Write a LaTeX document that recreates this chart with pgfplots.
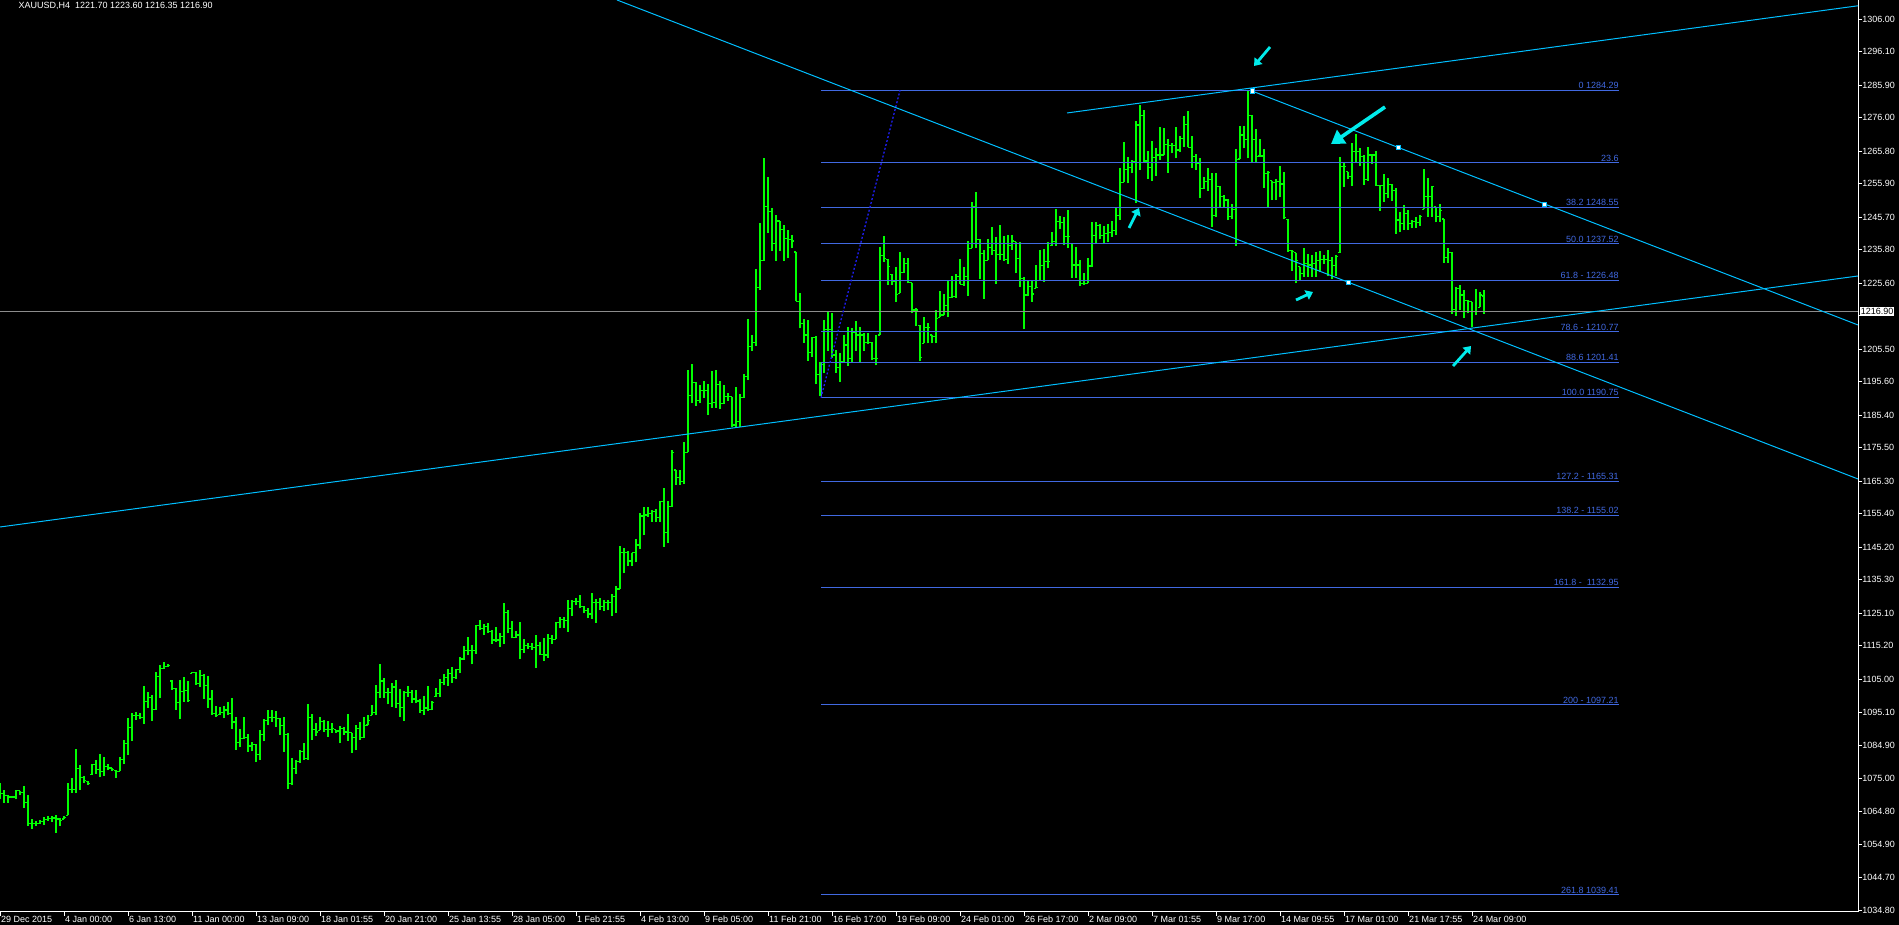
\documentclass[border=0pt]{standalone}
\usepackage{pgfplots}
\pgfplotsset{compat=1.18}
\usepackage{pgfplotstable}
\usepackage{fontspec}
\setmainfont{Liberation Sans}
\usetikzlibrary{arrows.meta}
\definecolor{barcol}{RGB}{0,255,0}
\definecolor{fibcol}{RGB}{65,105,225}
\definecolor{trendcol}{RGB}{0,191,255}
\definecolor{dotcol}{RGB}{30,30,240}
\definecolor{arrcol}{RGB}{0,235,235}
\definecolor{pricecol}{RGB}{140,140,140}
\pgfplotstableread{
i h l o c
0 1073.5 1068.5 1071.0 1070.2
1 1071.3 1067.4 1070.2 1069.7
2 1069.9 1067.4 1069.7 1069.2
3 1069.6 1068.8 1069.2 1069.2
4 1071.3 1068.5 1069.2 1071.1
5 1071.1 1069.8 1071.1 1070.5
6 1072.5 1065.9 1070.5 1067.5
7 1069.7 1060.4 1067.5 1061.1
8 1062.4 1059.5 1061.1 1061.1
9 1061.9 1060.4 1061.1 1061.2
10 1062.3 1061.0 1061.2 1061.8
11 1063.0 1060.8 1061.8 1062.4
12 1063.3 1061.9 1062.4 1062.6
13 1063.5 1061.6 1062.6 1062.8
14 1063.6 1058.3 1062.8 1062.5
15 1062.9 1060.4 1062.5 1062.0
16 1063.3 1062.5 1062.5 1062.9
17 1073.5 1063.6 1063.6 1071.5
18 1074.9 1070.4 1071.5 1071.4
19 1083.7 1070.4 1071.4 1077.8
20 1078.9 1071.4 1077.8 1075.1
21 1075.5 1073.5 1075.1 1074.2
22 1074.0 1073.0 1074.0 1073.2
23 1079.2 1076.0 1076.0 1079.0
24 1080.4 1076.3 1079.0 1077.5
25 1082.2 1075.2 1077.5 1076.9
26 1081.3 1075.6 1076.9 1078.6
27 1079.2 1077.3 1078.6 1078.0
28 1078.1 1077.1 1078.0 1077.5
29 1077.3 1075.0 1077.3 1077.0
30 1081.3 1077.0 1077.0 1080.6
31 1086.5 1079.2 1080.6 1085.5
32 1093.3 1082.1 1085.5 1090.3
33 1094.8 1086.3 1090.3 1094.1
34 1095.1 1092.6 1094.1 1093.9
35 1094.9 1092.8 1093.9 1093.5
36 1102.9 1091.4 1093.5 1098.3
37 1101.1 1096.4 1098.3 1099.6
38 1100.2 1092.4 1099.6 1095.9
39 1107.2 1095.8 1095.9 1105.9
40 1109.3 1099.4 1105.9 1108.2
41 1110.2 1108.1 1108.2 1109.0
42 1109.6 1108.7 1109.0 1109.3
43 1104.7 1101.9 1104.5 1102.2
44 1102.3 1095.7 1102.2 1097.9
45 1104.7 1092.8 1097.9 1101.3
46 1105.7 1098.2 1101.3 1101.5
47 1104.4 1098.2 1101.5 1098.5
48 1107.3 1106.8 1106.8 1107.0
49 1107.2 1103.4 1107.0 1103.8
50 1107.8 1102.7 1103.8 1106.2
51 1106.5 1099.1 1106.2 1103.1
52 1106.0 1096.3 1103.1 1099.0
53 1101.7 1094.2 1099.0 1094.6
54 1097.0 1093.6 1094.6 1094.1
55 1096.5 1094.2 1094.2 1095.0
56 1096.8 1093.1 1095.0 1095.7
57 1098.2 1094.2 1095.7 1094.6
58 1099.3 1089.9 1094.6 1092.0
59 1093.5 1083.6 1092.0 1085.7
60 1089.8 1084.4 1085.7 1087.0
61 1093.5 1087.0 1087.0 1087.2
62 1088.3 1082.9 1087.2 1084.7
63 1086.0 1083.1 1084.7 1085.3
64 1085.3 1079.9 1085.3 1082.1
65 1089.5 1080.6 1082.1 1088.2
66 1092.9 1086.1 1088.2 1092.6
67 1095.6 1091.2 1092.6 1093.4
68 1095.6 1092.1 1093.4 1093.4
69 1095.3 1090.6 1093.4 1093.0
70 1093.3 1088.1 1093.0 1091.0
71 1093.6 1082.9 1091.0 1088.3
72 1088.8 1071.5 1088.3 1073.3
73 1081.0 1072.8 1073.3 1077.8
74 1080.4 1076.3 1077.8 1080.0
75 1083.6 1079.5 1080.0 1083.1
76 1085.5 1080.6 1083.1 1080.8
77 1097.6 1080.6 1080.8 1093.4
78 1094.4 1086.6 1093.4 1089.8
79 1091.6 1087.9 1089.8 1089.0
80 1093.4 1089.5 1089.5 1092.3
81 1092.6 1089.0 1092.3 1089.7
82 1092.3 1087.5 1089.7 1089.7
83 1091.6 1088.8 1089.7 1090.0
84 1089.7 1088.8 1089.7 1089.3
85 1090.8 1085.5 1089.3 1090.0
86 1090.6 1088.0 1090.0 1089.0
87 1094.6 1086.3 1089.0 1088.8
88 1088.8 1082.6 1088.8 1087.2
89 1091.1 1083.5 1087.2 1090.0
90 1092.1 1086.7 1090.0 1087.3
91 1093.6 1087.2 1087.3 1091.0
92 1094.1 1091.1 1091.1 1092.6
93 1097.2 1094.1 1094.1 1095.0
94 1103.2 1094.1 1095.0 1101.0
95 1109.8 1099.4 1101.0 1104.5
96 1105.3 1099.4 1104.5 1101.0
97 1102.4 1097.4 1101.0 1101.0
98 1103.8 1096.7 1101.0 1102.7
99 1104.8 1096.4 1102.7 1097.7
100 1102.2 1093.6 1097.7 1096.5
101 1101.5 1092.4 1096.5 1101.0
102 1102.9 1099.7 1101.0 1101.0
103 1101.9 1097.9 1101.0 1099.0
104 1101.7 1097.7 1099.0 1098.4
105 1098.9 1094.9 1098.4 1095.6
106 1099.9 1094.3 1095.6 1096.3
107 1102.9 1095.4 1096.3 1095.9
108 1098.4 1095.6 1095.9 1097.9
109 1102.4 1099.7 1099.7 1100.7
110 1105.1 1099.7 1100.7 1104.1
111 1106.6 1103.2 1104.1 1105.5
112 1108.1 1103.0 1105.5 1106.8
113 1108.8 1104.0 1106.8 1105.5
114 1108.3 1105.1 1105.5 1108.1
115 1111.7 1106.8 1108.1 1111.2
116 1115.2 1110.9 1111.2 1113.9
117 1118.0 1112.4 1113.9 1113.9
118 1115.4 1109.6 1113.9 1113.9
119 1121.5 1112.7 1113.9 1121.3
120 1123.0 1120.0 1121.3 1120.5
121 1121.8 1118.5 1120.5 1121.0
122 1122.2 1119.2 1121.0 1119.5
123 1120.0 1115.9 1119.5 1117.0
124 1121.0 1116.4 1117.0 1117.0
125 1119.0 1114.9 1117.0 1118.0
126 1128.1 1115.7 1118.0 1125.3
127 1126.1 1119.0 1125.3 1120.5
128 1122.8 1117.5 1120.5 1117.7
129 1119.7 1117.5 1117.7 1118.5
130 1122.4 1111.1 1118.5 1114.1
131 1117.2 1113.1 1114.1 1115.4
132 1116.0 1114.1 1115.4 1114.9
133 1116.0 1113.9 1114.9 1114.7
134 1118.5 1108.5 1114.7 1115.4
135 1116.4 1112.4 1115.4 1112.6
136 1117.5 1110.6 1112.6 1112.4
137 1118.8 1111.6 1112.4 1117.5
138 1118.5 1115.9 1117.5 1117.2
139 1122.5 1117.2 1117.2 1122.3
140 1124.1 1120.5 1122.3 1123.3
141 1124.1 1120.7 1123.3 1122.8
142 1129.1 1119.5 1122.8 1126.6
143 1129.3 1124.3 1126.6 1128.8
144 1129.9 1127.6 1128.8 1128.6
145 1130.6 1126.6 1128.6 1127.1
146 1127.3 1125.1 1127.1 1125.9
147 1126.6 1123.6 1125.9 1124.9
148 1131.2 1123.4 1124.9 1128.4
149 1129.6 1122.2 1128.4 1128.4
150 1129.9 1126.1 1128.4 1127.3
151 1129.3 1125.9 1127.3 1128.4
152 1129.1 1126.1 1128.4 1128.3
153 1130.9 1124.4 1128.3 1130.2
154 1133.4 1125.3 1130.2 1132.5
155 1145.6 1132.4 1132.5 1143.6
156 1144.9 1137.3 1143.6 1143.6
157 1144.1 1139.6 1143.6 1141.0
158 1143.6 1139.6 1141.0 1143.5
159 1147.7 1140.6 1143.5 1145.9
160 1155.5 1144.6 1145.9 1154.7
161 1157.5 1148.9 1154.7 1155.0
162 1157.5 1154.5 1155.0 1155.5
163 1156.5 1153.0 1155.5 1156.2
164 1157.0 1153.0 1156.2 1154.3
165 1159.3 1153.0 1154.3 1159.1
166 1163.1 1145.3 1159.1 1149.7
167 1159.3 1146.6 1149.7 1157.7
168 1174.8 1157.5 1157.7 1174.1
169 1168.7 1164.3 1168.7 1166.5
170 1168.7 1164.3 1166.5 1165.3
171 1177.3 1164.6 1165.3 1174.1
172 1199.1 1174.1 1174.1 1191.5
173 1200.9 1189.0 1191.5 1195.4
174 1195.4 1188.3 1195.4 1190.0
175 1194.6 1189.0 1190.0 1193.0
176 1195.8 1190.7 1193.0 1193.0
177 1194.8 1185.4 1193.0 1189.0
178 1198.8 1187.5 1189.0 1189.2
179 1199.1 1187.7 1189.2 1194.8
180 1195.8 1187.2 1194.8 1189.0
181 1194.6 1188.7 1189.0 1191.2
182 1192.3 1189.7 1191.2 1191.0
183 1191.0 1181.7 1191.0 1182.4
184 1193.9 1181.7 1182.4 1183.4
185 1192.0 1181.7 1183.4 1190.7
186 1197.8 1190.5 1190.7 1197.1
187 1214.7 1196.1 1197.1 1206.2
188 1209.8 1205.0 1206.2 1207.6
189 1229.9 1206.5 1207.6 1224.3
190 1243.8 1223.5 1224.3 1232.4
191 1263.6 1232.4 1232.4 1248.9
192 1257.8 1241.0 1248.9 1247.3
193 1248.4 1235.5 1247.3 1237.7
194 1246.3 1232.4 1237.7 1244.5
195 1244.5 1235.5 1244.5 1242.0
196 1243.3 1232.4 1242.0 1239.2
197 1241.8 1233.1 1239.2 1239.0
198 1240.2 1236.2 1239.0 1238.4
199 1235.1 1220.1 1235.1 1220.1
200 1222.5 1211.8 1220.1 1213.3
201 1214.7 1207.5 1213.3 1209.8
202 1214.3 1202.0 1209.8 1204.5
203 1209.3 1203.2 1204.5 1209.1
204 1209.5 1194.8 1209.1 1197.8
205 1201.7 1191.2 1197.8 1200.9
206 1214.3 1198.1 1200.9 1211.5
207 1216.9 1205.0 1211.5 1211.5
208 1216.4 1202.7 1211.5 1203.7
209 1205.2 1198.3 1203.7 1199.9
210 1204.2 1195.6 1199.9 1201.7
211 1209.8 1201.7 1201.7 1206.8
212 1212.1 1200.5 1206.8 1202.7
213 1211.8 1201.4 1202.7 1210.5
214 1214.0 1205.0 1210.5 1209.8
215 1212.1 1201.4 1209.8 1209.8
216 1210.3 1205.0 1209.8 1207.5
217 1210.3 1207.2 1207.5 1207.5
218 1207.8 1202.2 1207.5 1202.7
219 1209.8 1200.6 1202.7 1202.7
220 1236.7 1209.8 1209.8 1234.0
221 1240.0 1232.1 1234.0 1233.0
222 1232.9 1225.0 1232.9 1230.6
223 1228.3 1225.0 1228.3 1226.0
224 1230.4 1219.9 1226.0 1222.2
225 1235.0 1222.5 1222.5 1228.8
226 1233.3 1228.6 1228.8 1231.6
227 1233.1 1225.5 1231.6 1225.8
228 1225.7 1216.4 1225.7 1217.4
229 1217.9 1212.5 1217.4 1217.4
230 1212.8 1201.9 1212.8 1202.9
231 1215.2 1207.3 1207.3 1212.1
232 1213.6 1207.3 1212.1 1212.1
233 1209.8 1207.3 1209.8 1209.3
234 1217.4 1207.3 1209.3 1214.9
235 1223.3 1215.2 1215.2 1215.9
236 1222.3 1215.9 1215.9 1218.7
237 1226.3 1215.2 1218.7 1221.2
238 1227.7 1221.0 1221.2 1221.5
239 1228.4 1221.0 1221.5 1227.5
240 1232.9 1225.3 1227.5 1225.3
241 1230.4 1224.8 1225.3 1227.5
242 1238.4 1221.8 1227.5 1236.2
243 1250.2 1236.2 1236.2 1248.9
244 1253.2 1236.2 1248.9 1238.9
245 1238.9 1226.8 1238.9 1234.6
246 1235.7 1220.9 1234.6 1232.6
247 1239.0 1232.6 1232.6 1236.5
248 1242.8 1234.1 1236.5 1235.5
249 1239.5 1225.3 1235.5 1234.4
250 1243.3 1232.6 1234.4 1234.4
251 1240.0 1232.3 1234.4 1232.8
252 1240.2 1231.4 1232.8 1237.0
253 1240.4 1235.7 1237.0 1238.4
254 1238.2 1228.6 1238.2 1233.1
255 1238.0 1224.5 1233.1 1227.0
256 1227.5 1211.5 1227.0 1222.0
257 1226.7 1221.6 1222.0 1224.5
258 1226.5 1219.9 1224.5 1222.3
259 1231.1 1224.0 1224.0 1224.3
260 1235.7 1226.5 1226.5 1230.9
261 1236.0 1226.0 1230.9 1232.1
262 1238.2 1230.1 1232.1 1232.1
263 1241.2 1237.0 1237.0 1238.2
264 1248.3 1237.0 1238.2 1244.3
265 1246.0 1242.0 1244.3 1244.0
266 1245.8 1237.2 1244.0 1239.9
267 1247.9 1236.2 1239.9 1239.9
268 1237.7 1227.3 1237.7 1231.1
269 1236.7 1227.3 1231.1 1231.1
270 1232.6 1224.7 1231.1 1225.5
271 1228.8 1225.0 1225.5 1225.5
272 1233.1 1225.5 1225.5 1230.8
273 1244.3 1230.4 1230.8 1240.2
274 1244.1 1237.5 1240.2 1243.1
275 1243.5 1238.9 1243.1 1240.0
276 1243.1 1237.5 1240.0 1240.7
277 1243.5 1238.0 1240.7 1241.0
278 1244.5 1239.7 1241.0 1241.5
279 1248.6 1240.2 1241.5 1246.3
280 1260.5 1244.8 1246.3 1256.3
281 1268.6 1256.3 1256.3 1260.2
282 1263.9 1256.0 1260.2 1260.7
283 1263.1 1259.0 1260.7 1262.6
284 1275.0 1250.1 1262.6 1273.7
285 1279.8 1260.0 1273.7 1276.6
286 1278.3 1262.6 1276.6 1262.8
287 1265.9 1257.3 1262.8 1260.8
288 1268.9 1256.8 1260.8 1263.9
289 1266.6 1258.3 1263.9 1264.6
290 1273.2 1263.1 1264.6 1264.6
291 1272.7 1264.6 1264.6 1267.8
292 1269.4 1259.2 1267.8 1267.6
293 1268.1 1265.1 1267.6 1267.6
294 1273.0 1263.6 1267.6 1266.1
295 1270.4 1265.6 1266.1 1269.7
296 1276.5 1267.1 1269.7 1273.9
297 1278.0 1266.9 1273.9 1266.9
298 1270.4 1260.7 1266.9 1264.1
299 1264.8 1260.0 1264.1 1261.9
300 1263.8 1251.6 1261.9 1254.4
301 1258.0 1254.2 1254.4 1256.5
302 1260.7 1253.6 1256.5 1257.2
303 1259.2 1242.8 1257.2 1246.3
304 1259.0 1245.8 1246.3 1255.0
305 1255.2 1248.9 1255.0 1251.9
306 1252.4 1248.9 1251.9 1250.9
307 1251.1 1244.8 1250.9 1245.8
308 1249.6 1245.0 1245.8 1247.9
309 1266.3 1237.0 1247.9 1263.3
310 1273.4 1263.4 1263.4 1270.7
311 1273.5 1266.6 1270.7 1269.2
312 1284.4 1263.6 1269.2 1276.5
313 1276.8 1262.1 1276.5 1269.2
314 1272.4 1262.1 1269.2 1264.1
315 1269.5 1264.3 1264.3 1264.3
316 1266.4 1254.6 1264.3 1259.0
317 1259.7 1248.9 1259.0 1259.2
318 1256.8 1250.9 1256.8 1256.2
319 1257.2 1250.9 1256.2 1256.5
320 1261.2 1251.7 1256.5 1255.8
321 1259.5 1245.0 1255.8 1245.5
322 1245.0 1235.2 1245.0 1235.5
323 1235.7 1229.4 1235.5 1235.2
324 1234.9 1225.5 1234.9 1232.6
325 1230.6 1226.5 1230.6 1228.6
326 1236.2 1227.5 1228.6 1231.6
327 1234.6 1227.5 1231.6 1231.1
328 1234.1 1227.5 1231.1 1231.6
329 1235.2 1227.5 1231.6 1232.6
330 1235.4 1228.9 1232.6 1232.8
331 1234.1 1231.4 1232.8 1232.8
332 1235.7 1227.8 1232.8 1232.6
333 1233.6 1226.8 1232.6 1230.9
334 1234.1 1227.8 1230.9 1233.6
335 1264.1 1234.9 1234.9 1261.2
336 1262.1 1254.8 1261.2 1261.0
337 1259.5 1257.2 1259.5 1258.0
338 1268.3 1255.2 1258.0 1265.6
339 1271.0 1262.6 1265.6 1265.6
340 1266.8 1261.2 1265.6 1264.1
341 1264.6 1255.5 1264.1 1257.2
342 1266.9 1256.8 1257.2 1264.6
343 1264.9 1261.8 1264.6 1264.6
344 1265.8 1255.2 1264.6 1255.2
345 1255.5 1247.6 1255.2 1255.2
346 1258.7 1250.4 1255.2 1252.9
347 1257.5 1251.4 1252.9 1255.5
348 1255.9 1250.7 1255.5 1253.9
349 1254.5 1240.7 1253.9 1244.8
350 1247.3 1241.2 1244.8 1243.8
351 1249.4 1241.8 1243.8 1246.8
352 1247.8 1241.8 1246.8 1243.8
353 1244.8 1242.3 1243.8 1244.3
354 1245.8 1242.5 1244.3 1244.0
355 1246.3 1243.1 1244.0 1245.8
356 1260.2 1248.1 1248.1 1251.9
357 1257.5 1245.8 1251.9 1251.9
358 1255.2 1245.8 1251.9 1255.0
359 1248.9 1244.1 1248.9 1246.0
360 1249.7 1244.3 1246.0 1247.8
361 1245.1 1231.8 1245.1 1233.5
362 1236.2 1231.8 1233.5 1234.9
363 1235.2 1216.2 1234.9 1217.5
364 1224.5 1215.6 1217.5 1224.0
365 1225.0 1217.4 1224.0 1222.0
366 1223.5 1214.9 1222.0 1220.4
367 1220.4 1216.4 1220.4 1219.9
368 1219.9 1212.1 1219.9 1216.9
369 1223.7 1215.9 1216.9 1216.9
370 1222.8 1218.2 1218.2 1222.0
371 1223.6 1216.35 1221.7 1216.9
}\bars
\newcommand{\lab}{\fontsize{9}{10}\selectfont}
\begin{document}
\begin{tikzpicture}
\fill[black] (0,-13pt) rectangle (1899pt,912pt);
\begin{axis}[
  at={(0,0)}, anchor=south west, scale only axis,
  width=1858pt, height=912pt,
  xmin=0, xmax=464.5, ymin=1034.2, ymax=1311.78,
  clip mode=individual,
  axis x line*=bottom, axis y line*=right,
  axis line style={white, line width=1pt, -},
  tick style={white, line width=0.8pt},
  tick align=outside, major tick length=4pt,
  xtick={0,16,...,368},
  xticklabels={29 Dec 2015,4 Jan 00:00,6 Jan 13:00,11 Jan 00:00,13 Jan 09:00,18 Jan 01:55,20 Jan 21:00,25 Jan 13:55,28 Jan 05:00,1 Feb 21:55,4 Feb 13:00,9 Feb 05:00,11 Feb 21:00,16 Feb 17:00,19 Feb 09:00,24 Feb 01:00,26 Feb 17:00,2 Mar 09:00,7 Mar 01:55,9 Mar 17:00,14 Mar 09:55,17 Mar 01:00,21 Mar 17:55,24 Mar 09:00},
  ytick={1034.80,1044.70,1054.90,1064.80,1075.00,1084.90,1095.10,1105.00,1115.20,1125.10,1135.30,1145.20,1155.40,1165.30,1175.50,1185.40,1195.60,1205.50,1215.70,1225.60,1235.80,1245.70,1255.90,1265.80,1276.00,1285.90,1296.10,1306.00},
  yticklabels={1034.80,1044.70,1054.90,1064.80,1075.00,1084.90,1095.10,1105.00,1115.20,1125.10,1135.30,1145.20,1155.40,1165.30,1175.50,1185.40,1195.60,1205.50,,1225.60,1235.80,1245.70,1255.90,1265.80,1276.00,1285.90,1296.10,1306.00},
  xticklabel style={anchor=north west, inner sep=0pt, text=white, font=\lab, xshift=1pt},
  yticklabel style={anchor=west, inner sep=0pt, text=white, font=\lab},
]
% price bars (high-low, open tick, close tick)
\addplot[draw=none, mark=none, forget plot,
  error bars/.cd, y dir=plus, y explicit, error mark=none,
  error bar style={draw=barcol, line width=1.3pt}]
  table[x=i, y=l, y error expr=\thisrow{h}-\thisrow{l}] {\bars};
\addplot[draw=none, mark=none, forget plot,
  error bars/.cd, x dir=minus, x fixed=0.4, error mark=none,
  error bar style={draw=barcol, line width=1.2pt}]
  table[x=i, y=o] {\bars};
\addplot[draw=none, mark=none, forget plot,
  error bars/.cd, x dir=plus, x fixed=0.4, error mark=none,
  error bar style={draw=barcol, line width=1.2pt}]
  table[x=i, y=c] {\bars};
% current price line
\addplot[pricecol, line width=0.9pt] coordinates {(0,1216.9) (464.5,1216.9)};
% fibonacci levels
\addplot[fibcol, line width=1pt] coordinates {(205.25,1284.29) (404.7,1284.29)};
\addplot[fibcol, line width=1pt] coordinates {(205.25,1262.21) (404.7,1262.21)};
\addplot[fibcol, line width=1pt] coordinates {(205.25,1248.55) (404.7,1248.55)};
\addplot[fibcol, line width=1pt] coordinates {(205.25,1237.52) (404.7,1237.52)};
\addplot[fibcol, line width=1pt] coordinates {(205.25,1226.48) (404.7,1226.48)};
\addplot[fibcol, line width=1pt] coordinates {(205.25,1210.77) (404.7,1210.77)};
\addplot[fibcol, line width=1pt] coordinates {(205.25,1201.41) (404.7,1201.41)};
\addplot[fibcol, line width=1pt] coordinates {(205.25,1190.75) (404.7,1190.75)};
\addplot[fibcol, line width=1pt] coordinates {(205.25,1165.31) (404.7,1165.31)};
\addplot[fibcol, line width=1pt] coordinates {(205.25,1155.02) (404.7,1155.02)};
\addplot[fibcol, line width=1pt] coordinates {(205.25,1132.95) (404.7,1132.95)};
\addplot[fibcol, line width=1pt] coordinates {(205.25,1097.21) (404.7,1097.21)};
\addplot[fibcol, line width=1pt] coordinates {(205.25,1039.41) (404.7,1039.41)};
\addplot[fibcol, line width=1pt] coordinates {(205.25,1190.75) (205.25,1201.41)};
\addplot[dotcol, line width=1.3pt, dash pattern=on 2pt off 2pt] coordinates {(205.25,1190.75) (225,1284.29)};
% trend lines
\addplot[trendcol, line width=1pt] coordinates {(0,1151.38) (464.5,1227.78)};
\addplot[trendcol, line width=1pt] coordinates {(266.75,1277.39) (464.5,1310.02)};
\addplot[trendcol, line width=1pt] coordinates {(154.25,1311.78) (464.5,1165.99)};
\addplot[trendcol, line width=1pt] coordinates {(313,1284.08) (464.5,1212.86)};
% anchor points
\addplot[only marks, mark=square*, mark size=2.2pt, mark options={fill=white, draw=trendcol, line width=0.8pt}]
  coordinates {(313.1,1284.1) (349.6,1266.95) (386.1,1249.6) (337.1,1225.9)};
% arrows
\addplot[arrcol, line width=2.8pt, -{Triangle[length=7pt,width=10pt]}] coordinates {(317.5,1297.48) (313.5,1291.69)};
\addplot[arrcol, line width=3.6pt, -{Triangle[length=13pt,width=16pt]}] coordinates {(346.25,1279.21) (332.75,1267.95)};
\addplot[arrcol, line width=2.8pt, -{Triangle[length=7pt,width=10pt]}] coordinates {(282.25,1242.39) (284.75,1248.47)};
\addplot[arrcol, line width=2.8pt, -{Triangle[length=7pt,width=10pt]}] coordinates {(324,1220.47) (328.25,1222.9)};
\addplot[arrcol, line width=2.8pt, -{Triangle[length=7pt,width=10pt]}] coordinates {(363.25,1200.38) (367.75,1206.47)};
% fibonacci labels
\begin{scope}[every node/.style={anchor=south east, text=fibcol, font=\lab, inner sep=0pt, yshift=1.5pt}]
\node at (axis cs:404.7,1284.29) {0 1284.29};
\node at (axis cs:404.7,1262.21) {23.6};
\node at (axis cs:404.7,1248.55) {38.2 1248.55};
\node at (axis cs:404.7,1237.52) {50.0 1237.52};
\node at (axis cs:404.7,1226.48) {61.8 - 1226.48};
\node at (axis cs:404.7,1210.77) {78.6 - 1210.77};
\node at (axis cs:404.7,1201.41) {88.6 1201.41};
\node at (axis cs:404.7,1190.75) {100.0 1190.75};
\node at (axis cs:404.7,1165.31) {127.2 - 1165.31};
\node at (axis cs:404.7,1155.02) {138.2 - 1155.02};
\node at (axis cs:404.7,1132.95) {161.8 -\ \ 1132.95};
\node at (axis cs:404.7,1097.21) {200 - 1097.21};
\node at (axis cs:404.7,1039.41) {261.8 1039.41};
\end{scope}
% current price box
\node[anchor=west, fill=white, text=black, font=\lab, inner xsep=1pt, inner ysep=1.5pt, xshift=1.5pt] at (axis cs:464.5,1216.9) {1216.90};
% header
\node[anchor=base west, text=white, font=\lab, xshift=15pt, yshift=-9pt] at (rel axis cs:0,1) {XAUUSD,H4\ \ 1221.70 1223.60 1216.35 1216.90};
\end{axis}
\pgfresetboundingbox
\useasboundingbox (0,-13pt) rectangle (1899pt,912pt);
\end{tikzpicture}
\end{document}
